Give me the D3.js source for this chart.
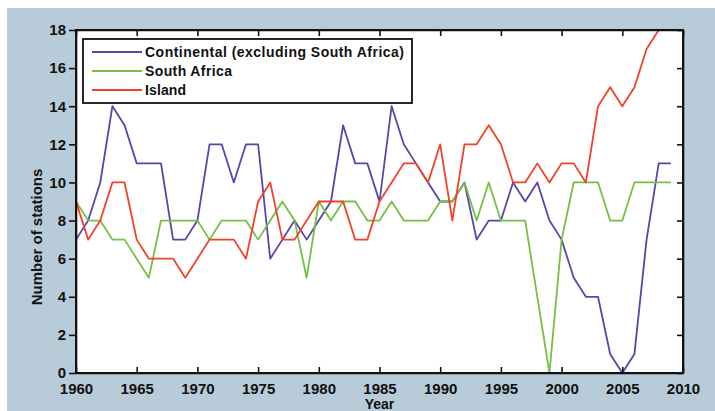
<!DOCTYPE html>
<html>
<head>
<meta charset="utf-8">
<script src="https://cdn.jsdelivr.net/npm/d3@7"></script>
<style>
  body { margin: 0; background: #ffffff; }
  .chart text { font-family: "Liberation Sans", Arial, sans-serif; font-weight: bold; fill: #111; }
  .axis path, .axis line { stroke: #111; }
</style>
</head>
<body>
<div class="chart"></div>
<script>
// values, one per year 1960..2009
const years = d3.range(1960, 2010);
const continental = [7, 8, 10, 14, 13, 11, 11, 11, 7, 7, 8, 12, 12, 10, 12, 12, 6, 7, 8, 7,
  8, 9, 13, 11, 11, 9, 14, 12, 11, 10, 9, 9, 10, 7, 8, 8, 10, 9, 10, 8,
  7, 5, 4, 4, 1, 0, 1, 7, 11, 11];
const southAfrica = [9, 8, 8, 7, 7, 6, 5, 8, 8, 8, 8, 7, 8, 8, 8, 7, 8, 9, 8, 5,
  9, 8, 9, 9, 8, 8, 9, 8, 8, 8, 9, 9, 10, 8, 10, 8, 8, 8, 4, 0,
  7, 10, 10, 10, 8, 8, 10, 10, 10, 10];
const island = [9, 7, 8, 10, 10, 7, 6, 6, 6, 5, 6, 7, 7, 7, 6, 9, 10, 7, 7, 8,
  9, 9, 9, 7, 7, 9, 10, 11, 11, 10, 12, 8, 12, 12, 13, 12, 10, 10, 11, 10,
  11, 11, 10, 14, 15, 14, 15, 17, 18, 18];
const seriesNames = ['Continental (excluding South Africa)', 'South Africa', 'Island'];
const seriesColors = ['#5a45ab', '#76c043', '#f2412a'];
const xTicks = [1960, 1965, 1970, 1975, 1980, 1985, 1990, 1995, 2000, 2005, 2010];
const yTicks = [0, 2, 4, 6, 8, 10, 12, 14, 16, 18];

const W = 715, H = 411;
const margin = {top: 30, right: 32, bottom: 38, left: 76};
const width = W - margin.left - margin.right;
const height = H - margin.top - margin.bottom;

const svg = d3.select('.chart')
  .append('svg')
  .attr('width', W)
  .attr('height', H);

// blue figure background
svg.append('rect')
  .attr('x', 7).attr('y', 8)
  .attr('width', W - 7).attr('height', H - 8)
  .attr('fill', '#b8cbd8');

const g = svg.append('g')
  .attr('transform', `translate(${margin.left},${margin.top})`);

g.append('rect')
  .attr('width', width).attr('height', height)
  .attr('fill', '#fff');

const x = d3.scaleLinear().domain([1960, 2010]).range([0, width]);
const y = d3.scaleLinear().domain([0, 18]).range([height, 0]);

const line = d3.line()
  .x((d, i) => x(years[i]))
  .y(d => y(d));

[continental, southAfrica, island].forEach((vals, i) => {
  g.append('path')
    .datum(vals)
    .attr('fill', 'none')
    .attr('stroke', seriesColors[i])
    .attr('stroke-width', 1.8)
    .attr('stroke-linejoin', 'round')
    .attr('d', line);
});

//axes, matlab style ticks
g.append('g')
  .attr('class', 'axis')
  .attr('transform', `translate(0,${height})`)
  .call(d3.axisBottom(x).tickValues(xTicks).tickFormat(d3.format('d'))
    .tickSizeInner(-6).tickSizeOuter(0).tickPadding(10))
  .selectAll('text').style('font-size', '15px');

g.append('g')
  .attr('class', 'axis')
  .call(d3.axisTop(x).tickValues(xTicks).tickFormat('')
    .tickSizeInner(-6).tickSizeOuter(0));

g.append('g')
  .attr('class', 'axis')
  .call(d3.axisLeft(y).tickValues(yTicks)
    .tickSizeInner(7).tickSizeOuter(0).tickPadding(3))
  .selectAll('text').style('font-size', '15px');

g.append('g')
  .attr('class', 'axis')
  .attr('transform', `translate(${width},0)`)
  .call(d3.axisRight(y).tickValues(yTicks).tickFormat('')
    .tickSizeInner(-6).tickSizeOuter(0));

g.selectAll('.axis path, .axis line').attr('stroke-width', 1.6);

g.append('rect')
  .attr('width', width).attr('height', height)
  .attr('fill', 'none')
  .attr('stroke', '#111')
  .attr('stroke-width', 2);

// axis labels
svg.append('text')
  .attr('x', (margin.left + width / 2))
  .attr('y', 409)
  .attr('text-anchor', 'middle')
  .style('font-size', '14px')
  .text('Year');

svg.append('text')
  .attr('transform', 'rotate(-90)')
  .attr('x', -237)
  .attr('y', 42)
  .attr('text-anchor', 'middle')
  .style('font-size', '15px')
  .text('Number of stations');

// legend
const legend = svg.append('g');
legend.append('rect')
  .attr('x', 83).attr('y', 39)
  .attr('width', 329).attr('height', 64)
  .attr('fill', '#fff')
  .attr('stroke', '#111')
  .attr('stroke-width', 1.8);

const legendY = [52, 71, 90];
const legendLen = [259, 87, 41];
seriesNames.forEach((name, i) => {
  legend.append('line')
    .attr('x1', 92).attr('x2', 142)
    .attr('y1', legendY[i]).attr('y2', legendY[i])
    .attr('stroke', seriesColors[i])
    .attr('stroke-width', 1.8);
  legend.append('text')
    .attr('x', 145)
    .attr('y', legendY[i])
    .attr('dy', '0.36em')
    .attr('textLength', legendLen[i])
    .style('font-size', '14px')
    .text(name);
});
</script>
</body>
</html>
